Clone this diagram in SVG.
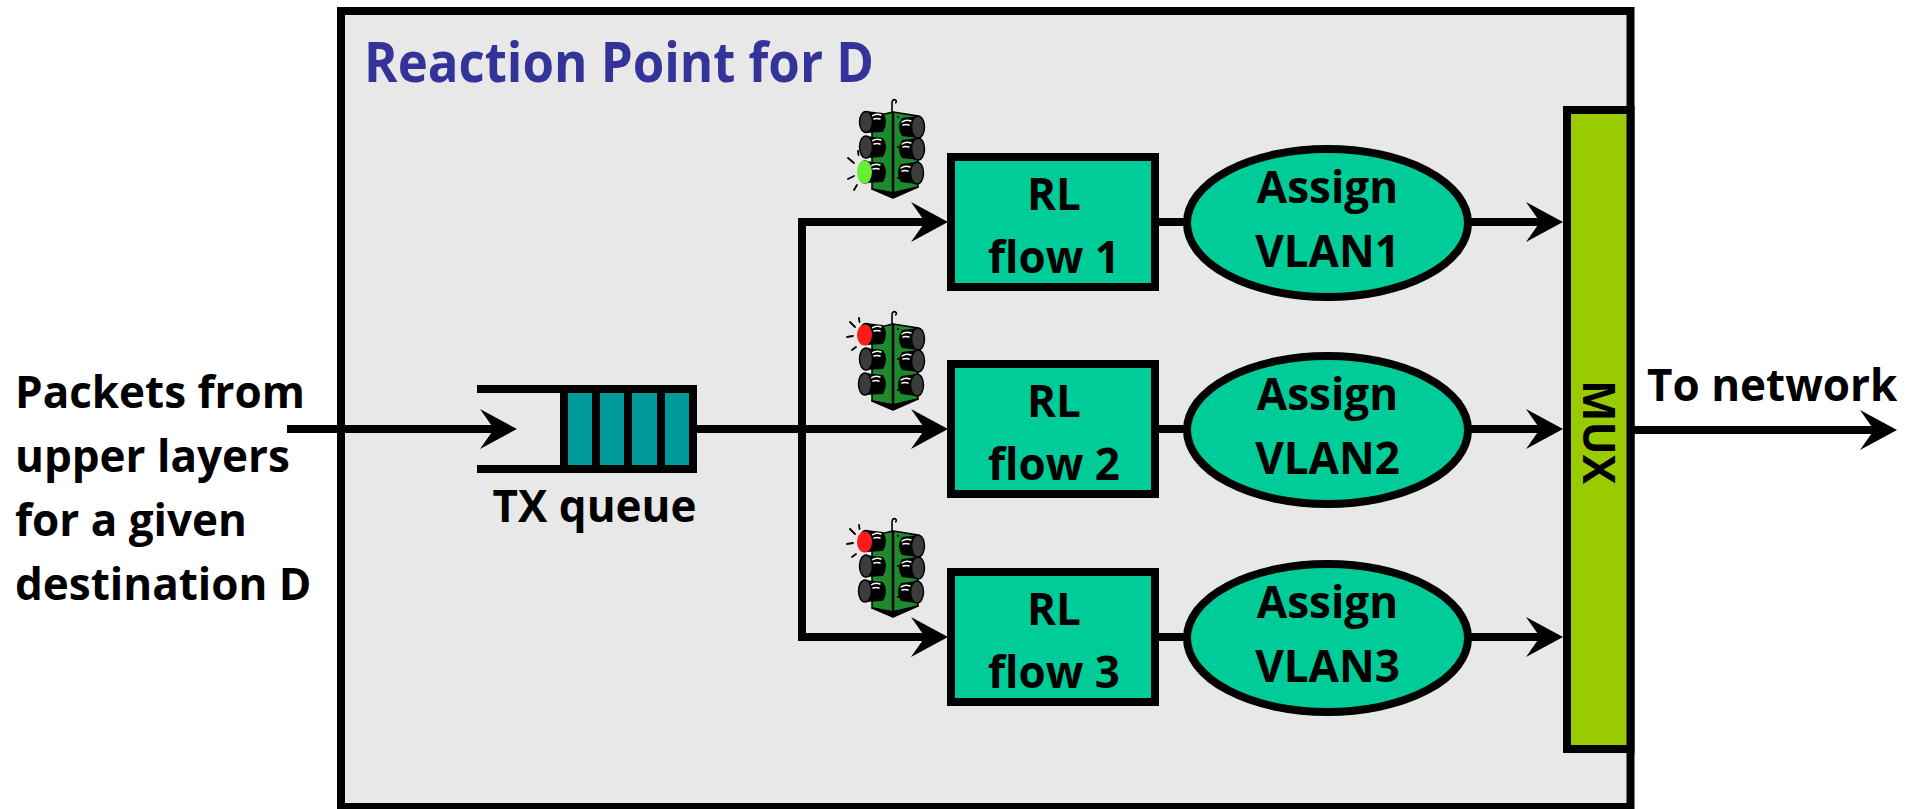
<svg xmlns="http://www.w3.org/2000/svg" xmlns:xlink="http://www.w3.org/1999/xlink" width="1919" height="809" viewBox="0 0 1919 809">
  <style>
    .lbl { font-family: "Open Sans", "Liberation Sans", sans-serif; font-weight: 700; font-size: 44px; fill: #000; }
    .mid { text-anchor: middle; }
    .title { font-size: 56px; fill: #333399; }
    .wire { fill: none; stroke: #000; stroke-width: 8; stroke-linejoin: miter; }
    .flowbox { fill: #00CC99; stroke: #000; stroke-width: 8; }
    .vlan { fill: #00CC99; stroke: #000; stroke-width: 8; }
    .hood { fill: #000; }
    .lens { fill: #3C3C3C; stroke: #000; stroke-width: 1.5; }
    .shine { fill: none; stroke: #fff; stroke-width: 1.4; stroke-linecap: round; }
    .ray { stroke: #000; stroke-width: 1.8; stroke-linecap: round; }
  </style>
  <defs>
    <marker id="arrow" markerUnits="userSpaceOnUse" viewBox="-40 -22 44 44" refX="-20" refY="0" markerWidth="44" markerHeight="44" orient="auto">
      <path d="M0,0 L-37,-20 L-23,0 L-37,20 Z" fill="#000"/>
    </marker>
    <!-- hanging three-aspect signal head, drawn at local origin -->
    <g id="signal">
      <path d="M52,22 V13 C52,10 54,9 55.5,10 C57,11 56.5,13 55,13" fill="none" stroke="#000" stroke-width="1.6"/>
      <polygon points="32,27 53,22 53,103 32,99" fill="#1E8A2E" stroke="#000" stroke-width="1.5"/>
      <polygon points="53,22 78,26 78,97 53,103" fill="#1E8A2E" stroke="#000" stroke-width="1.5"/>
      <polygon points="32,99 53,103 78,97 53,108" fill="#000" stroke="#000" stroke-width="1.5" stroke-linejoin="round"/>
      <line x1="53" y1="22" x2="53" y2="106" stroke="#000" stroke-width="2.5"/>
      <circle cx="58" cy="27" r="1.1" fill="#000"/>
      <circle cx="58" cy="57" r="1.1" fill="#000"/>
      <circle cx="58" cy="88" r="1.1" fill="#000"/>
      <!-- left column -->
      <path class="hood" d="M26,21 L43,23 Q49,32 43,42 L26,43 Z"/>
      <path class="shine" d="M32,26 q4,-3 9,-1 M34,29 q3,-1 6,0"/>
      <ellipse class="lens" cx="26" cy="32" rx="6.5" ry="10.5"/>
      <path class="hood" d="M26,46 L43,48 Q49,57 43,67 L26,68 Z"/>
      <path class="shine" d="M32,51 q4,-3 9,-1 M34,54 q3,-1 6,0"/>
      <ellipse class="lens" cx="26" cy="57" rx="6.5" ry="11"/>
      <path class="hood" d="M25,71 L43,73 Q49,82 43,92 L25,93 Z"/>
      <path class="shine" d="M31,76 q4,-3 9,-1 M33,79 q3,-1 6,0"/>
      <ellipse class="lens" cx="25" cy="82" rx="6.5" ry="11"/>
      <!-- right column -->
      <path class="hood" d="M78,26 L62,28 Q56,37 62,46 L78,48 Z"/>
      <path class="shine" d="M62,32 q4,-3 9,-1 M63,35 q3,-1 6,0"/>
      <ellipse class="lens" cx="78" cy="37" rx="6.5" ry="11"/>
      <path class="hood" d="M78,48 L62,50 Q56,59 62,68 L78,70 Z"/>
      <path class="shine" d="M62,54 q4,-3 9,-1 M63,57 q3,-1 6,0"/>
      <ellipse class="lens" cx="78" cy="59" rx="6.5" ry="11"/>
      <path class="hood" d="M77,72 L61,74 Q55,83 61,92 L77,94 Z"/>
      <path class="shine" d="M61,78 q4,-3 9,-1 M62,81 q3,-1 6,0"/>
      <ellipse class="lens" cx="77" cy="83" rx="6.5" ry="11"/>
    </g>
  </defs>

  <rect x="0" y="0" width="1919" height="809" fill="#fff"/>

  <!-- reaction point enclosure -->
  <g id="reaction-point">
    <rect x="341" y="11" width="1289.5" height="796" fill="#E8E8E8" stroke="#000" stroke-width="8"/>
    <text class="lbl title" x="364" y="82" textLength="510" lengthAdjust="spacingAndGlyphs">Reaction Point for D</text>
  </g>

  <!-- source text -->
  <g id="source">
    <text class="lbl" x="15" y="408">Packets from</text>
    <text class="lbl" x="15" y="472">upper layers</text>
    <text class="lbl" x="15" y="536">for a given</text>
    <text class="lbl" x="15" y="600">destination D</text>
  </g>

  <!-- transmit queue -->
  <g id="tx-queue">
    <line x1="477" y1="389" x2="564" y2="389" stroke="#000" stroke-width="8"/>
    <line x1="477" y1="469" x2="564" y2="469" stroke="#000" stroke-width="8"/>
    <rect x="564" y="389" width="129" height="80" fill="#009999" stroke="#000" stroke-width="8"/>
    <line x1="596" y1="389" x2="596" y2="469" stroke="#000" stroke-width="8"/>
    <line x1="628" y1="389" x2="628" y2="469" stroke="#000" stroke-width="8"/>
    <line x1="661" y1="389" x2="661" y2="469" stroke="#000" stroke-width="8"/>
    <text class="lbl mid" x="594.5" y="522">TX queue</text>
  </g>

  <!-- connectors -->
  <g id="connectors">
    <path class="wire" d="M287,429 H497" marker-end="url(#arrow)"/>
    <path class="wire" d="M697,429 H928" marker-end="url(#arrow)"/>
    <path class="wire" d="M802,429 V222 H928" marker-end="url(#arrow)"/>
    <path class="wire" d="M802,429 V637 H928" marker-end="url(#arrow)"/>
    <path class="wire" d="M1159,222 H1187"/>
    <path class="wire" d="M1159,429 H1187"/>
    <path class="wire" d="M1159,637 H1187"/>
    <path class="wire" d="M1470,222 H1543" marker-end="url(#arrow)"/>
    <path class="wire" d="M1470,429 H1543" marker-end="url(#arrow)"/>
    <path class="wire" d="M1470,637 H1543" marker-end="url(#arrow)"/>
    <path class="wire" d="M1634,430 H1877" marker-end="url(#arrow)"/>
  </g>

  <!-- rate limiters -->
  <g id="rl-flow-1">
    <rect class="flowbox" x="951" y="157" width="204" height="130"/>
    <text class="lbl mid" x="1054" y="210">RL</text>
    <text class="lbl mid" x="1054" y="273">flow 1</text>
  </g>
  <g id="rl-flow-2">
    <rect class="flowbox" x="951" y="364" width="204" height="130"/>
    <text class="lbl mid" x="1054" y="417">RL</text>
    <text class="lbl mid" x="1054" y="480">flow 2</text>
  </g>
  <g id="rl-flow-3">
    <rect class="flowbox" x="951" y="572" width="204" height="130"/>
    <text class="lbl mid" x="1054" y="625">RL</text>
    <text class="lbl mid" x="1054" y="688">flow 3</text>
  </g>

  <!-- VLAN assignment -->
  <g id="assign-vlan1">
    <ellipse class="vlan" cx="1327.5" cy="223" rx="140.5" ry="74"/>
    <text class="lbl mid" x="1327.5" y="203">Assign</text>
    <text class="lbl mid" x="1327.5" y="267">VLAN1</text>
  </g>
  <g id="assign-vlan2">
    <ellipse class="vlan" cx="1327.5" cy="430" rx="140.5" ry="74"/>
    <text class="lbl mid" x="1327.5" y="410">Assign</text>
    <text class="lbl mid" x="1327.5" y="474">VLAN2</text>
  </g>
  <g id="assign-vlan3">
    <ellipse class="vlan" cx="1327.5" cy="638" rx="140.5" ry="74"/>
    <text class="lbl mid" x="1327.5" y="618">Assign</text>
    <text class="lbl mid" x="1327.5" y="682">VLAN3</text>
  </g>

  <!-- multiplexer -->
  <g id="mux">
    <rect x="1567" y="110" width="63.5" height="639" fill="#99CC00" stroke="#000" stroke-width="8"/>
    <text class="lbl mid" transform="translate(1583,432) rotate(90)">MUX</text>
  </g>

  <!-- output -->
  <g id="network">
    <text class="lbl" x="1647" y="401">To network</text>
  </g>

  <!-- signals: green for flow 1, red for flows 2 and 3 -->
  <g id="signal-1" transform="translate(840,90)">
    <use xlink:href="#signal"/>
    <ellipse cx="24.5" cy="82" rx="7.5" ry="11.5" fill="#66EE33"/>
    <line class="ray" x1="8" y1="68" x2="14" y2="73"/>
    <line class="ray" x1="8" y1="89" x2="14" y2="86"/>
    <line class="ray" x1="14" y1="100" x2="17" y2="95"/>
    <line class="ray" x1="18" y1="61" x2="18.5" y2="65"/>
  </g>
  <g id="signal-2" transform="translate(840,302)">
    <use xlink:href="#signal"/>
    <ellipse cx="24.5" cy="33" rx="7.5" ry="10.5" fill="#FF1A1A"/>
    <line class="ray" x1="10" y1="20" x2="15" y2="25"/>
    <line class="ray" x1="7" y1="35" x2="13" y2="34"/>
    <line class="ray" x1="12" y1="48" x2="16" y2="45"/>
    <line class="ray" x1="19" y1="16" x2="19.5" y2="20"/>
  </g>
  <g id="signal-3" transform="translate(840,509)">
    <use xlink:href="#signal"/>
    <ellipse cx="24.5" cy="33" rx="7.5" ry="10.5" fill="#FF1A1A"/>
    <line class="ray" x1="10" y1="20" x2="15" y2="25"/>
    <line class="ray" x1="7" y1="35" x2="13" y2="34"/>
    <line class="ray" x1="12" y1="48" x2="16" y2="45"/>
    <line class="ray" x1="19" y1="16" x2="19.5" y2="20"/>
  </g>
</svg>
